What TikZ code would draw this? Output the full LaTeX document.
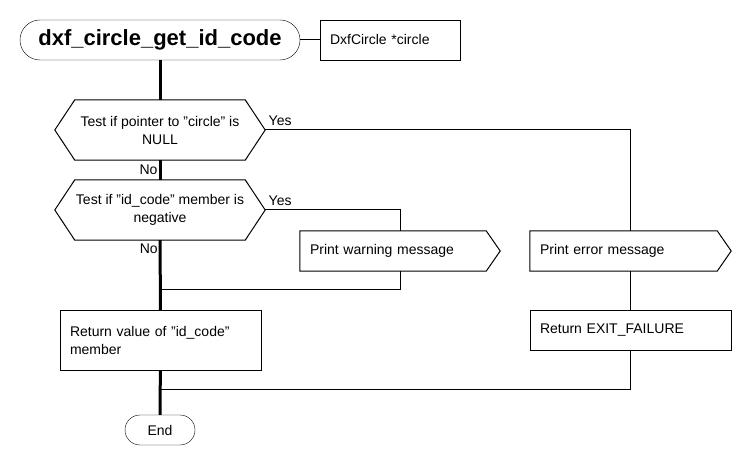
\documentclass[tikz,border=0pt]{standalone}
\usepackage{fontspec}
\setmainfont{Liberation Sans}
\usepackage{tikz}
\usetikzlibrary{positioning}

\begin{document}
\begin{tikzpicture}[x=1pt, y=-1pt,
    every node/.style={font=\fontsize{14}{18}\selectfont},
    term/.style={draw, rectangle, inner sep=0pt},
    plainbox/.style={draw, rectangle, inner xsep=10pt, inner ysep=0pt, align=left},
    hexbox/.style={rectangle, inner sep=0pt, minimum width=210, minimum height=60, align=center},
    sigbox/.style={rectangle, inner xsep=10pt, inner ysep=0pt, minimum height=40, align=left},
    thin line/.style={line width=1pt},
    main line/.style={line width=3pt},
    lbl/.style={inner sep=1pt}]
          \useasboundingbox (0,0) rectangle (750,470);
          \node[term, rounded corners=20pt, minimum width=280, minimum height=40, font=\bfseries\fontsize{22}{26}\selectfont] (start) at (160,40) {dxf\_circle\_get\_id\_code};
          \node[plainbox, minimum width=140, minimum height=40, text width=120] (par) at (390,40) {DxfCircle *circle};
          \node[hexbox] (t1) at (160,130) {Test if pointer to "circle" is\\NULL};
          \node[hexbox] (t2) at (160,210) {Test if "id\_code" member is\\negative};
          \node[sigbox, text width=180] (warn) at (400,251) {Print warning message};
          \node[sigbox, text width=181] (err) at (630.5,251) {Print error message};
          \node[plainbox, minimum height=40, text width=181] (fail) at (630.5,330) {Return EXIT\_FAILURE};
          \node[plainbox, minimum height=60, text width=181] (ret) at (160.5,340) {Return value of "id\_code"\\member};
          \node[term, rounded corners=15pt, minimum width=70, minimum height=30] (end) at (160,430) {End};
          \coordinate (j1) at (160,290);
          \coordinate (j2) at (160,390);
          % decision and output outlines
          \foreach \n in {t1,t2}
            \draw[thin line] (\n.west) -- ([xshift=20]\n.north west) -- ([xshift=-20]\n.north east) -- (\n.east) -- ([xshift=-20]\n.south east) -- ([xshift=20]\n.south west) -- cycle;
          \foreach \n in {warn,err}
            \draw[thin line] (\n.north west) -- ([xshift=-14]\n.north east) -- (\n.east) -- ([xshift=-14]\n.south east) -- (\n.south west) -- cycle;
          % connectors
          \draw[thin line] (start.east) -- (par.west);
          \draw[main line] (start) -- (t1);
          \draw[main line] (t1) -- node[lbl, left] {No} (t2);
          \draw[main line] (t2) -- node[lbl, left, pos=0.13] {No} (ret);
          \draw[main line] (ret) -- (end);
          \draw[thin line] (t1.east) -| node[lbl, pos=0, anchor=south west, xshift=2, yshift=3] {Yes} (err.north);
          \draw[thin line] (t2.east) -| node[lbl, pos=0, anchor=south west, xshift=2, yshift=3] {Yes} (warn.north);
          \draw[thin line] (warn.south) |- (j1);
          \draw[thin line] (err.south) -- (fail.north);
          \draw[thin line] (fail.south) |- (j2);
        \end{tikzpicture}
\end{document}
